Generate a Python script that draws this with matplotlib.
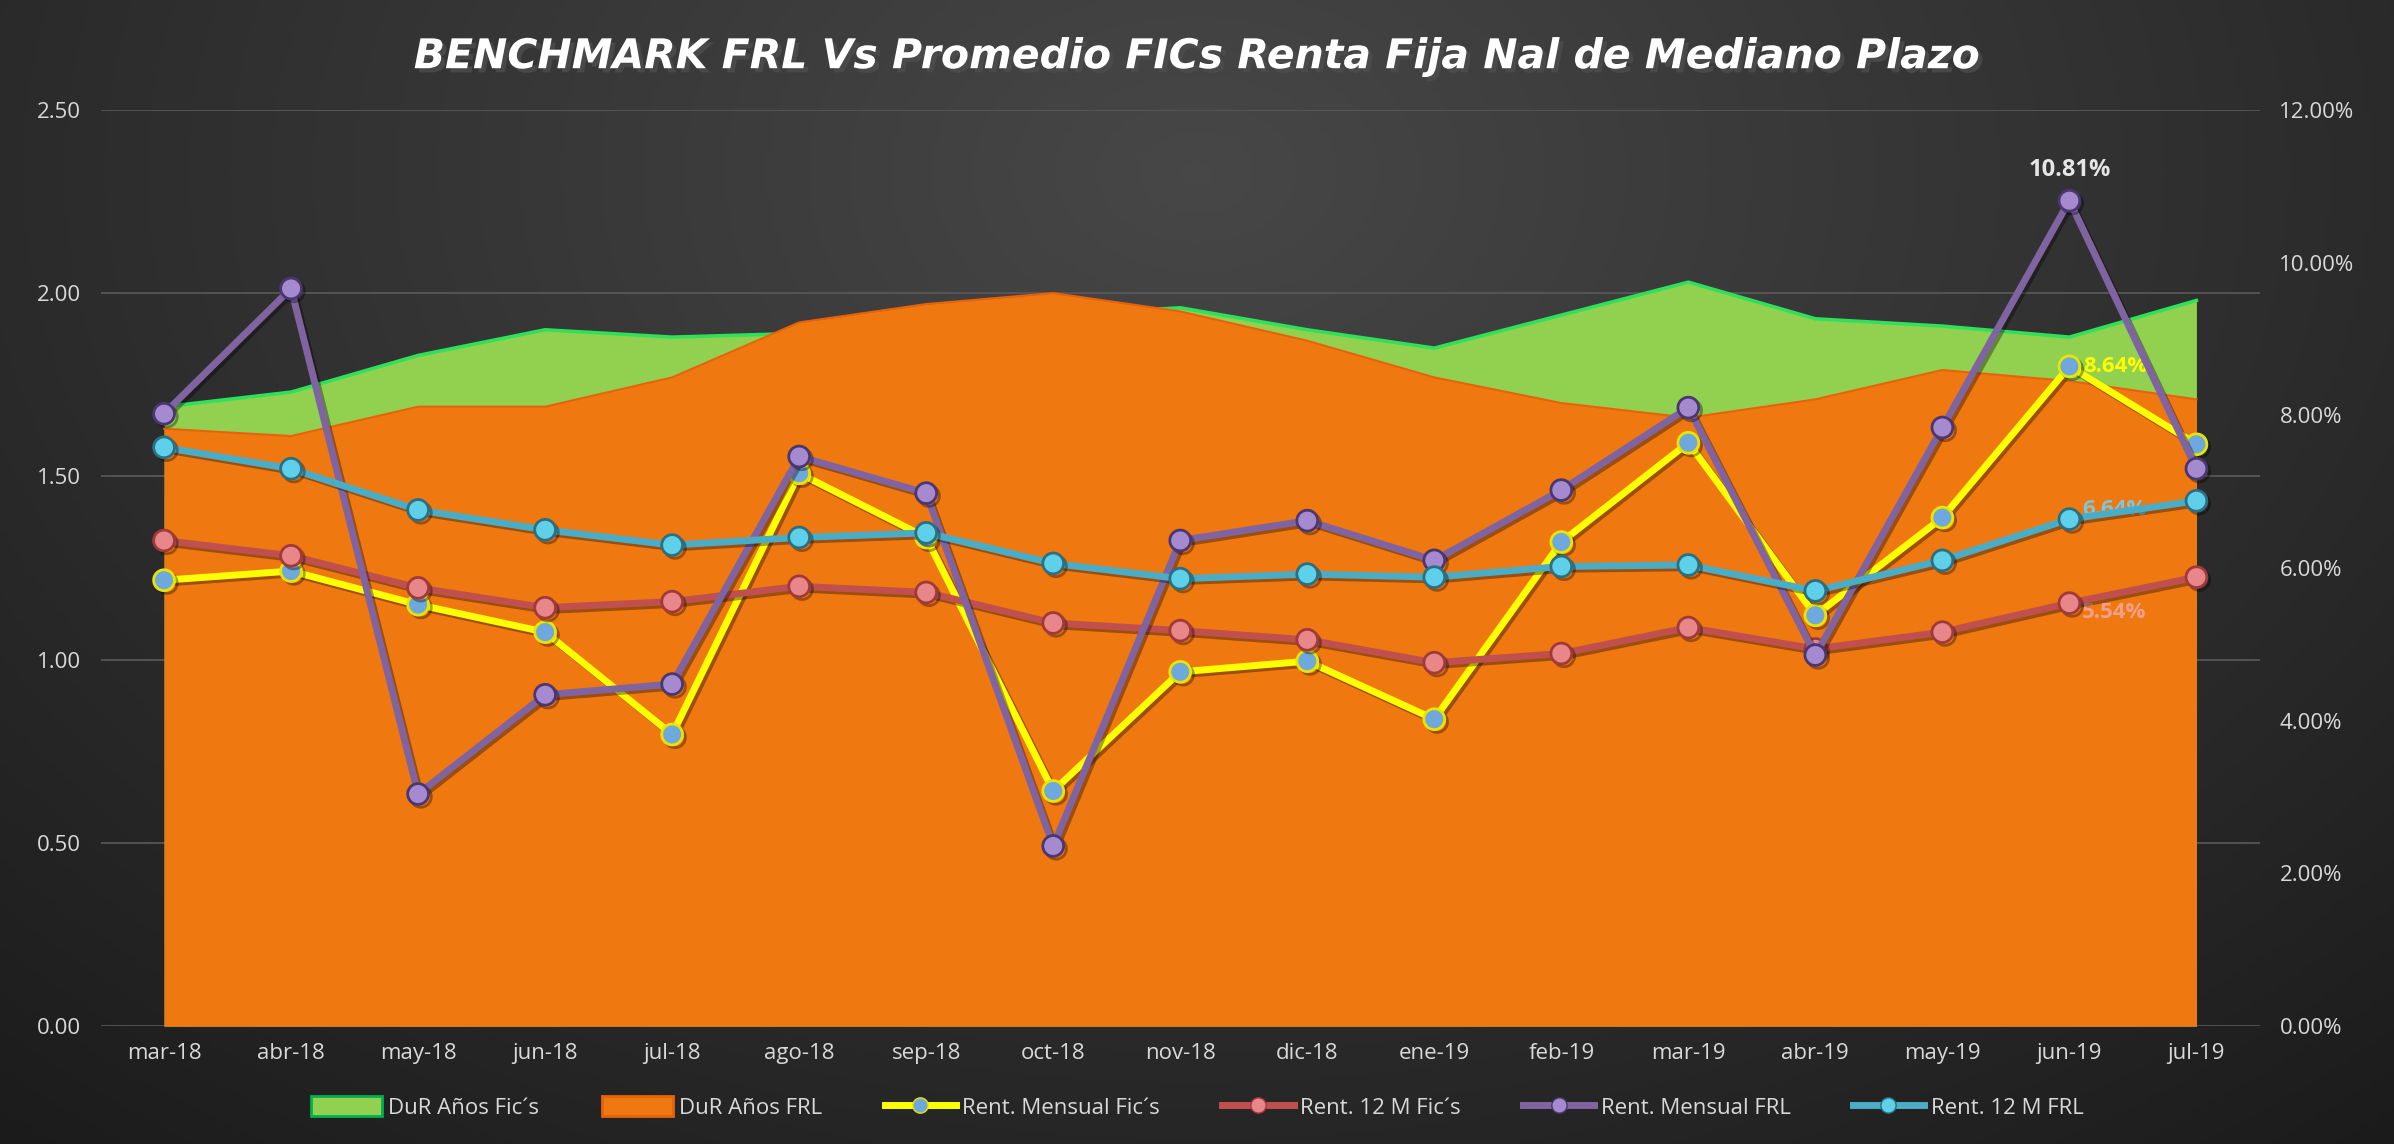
import numpy as np
import matplotlib.pyplot as plt
import matplotlib.patheffects as pe
from matplotlib.patches import Patch
from matplotlib.lines import Line2D
from matplotlib.ticker import FuncFormatter, MultipleLocator

# --- data ---
months = ["mar-18", "abr-18", "may-18", "jun-18", "jul-18", "ago-18", "sep-18", "oct-18",
          "nov-18", "dic-18", "ene-19", "feb-19", "mar-19", "abr-19", "may-19", "jun-19", "jul-19"]

dur_fics = [1.69, 1.73, 1.83, 1.90, 1.88, 1.89, 1.91, 1.94, 1.96, 1.90, 1.85, 1.94, 2.03, 1.93, 1.91, 1.88, 1.98]
dur_frl = [1.63, 1.61, 1.69, 1.69, 1.77, 1.92, 1.97, 2.00, 1.95, 1.87, 1.77, 1.70, 1.66, 1.71, 1.79, 1.76, 1.71]

# returns in %
rent_mens_fics = [5.84, 5.96, 5.52, 5.16, 3.82, 7.24, 6.40, 3.08, 4.64, 4.78, 4.02, 6.34, 7.64, 5.38, 6.66, 8.64, 7.62]
rent_12m_fics = [6.36, 6.16, 5.74, 5.48, 5.56, 5.76, 5.68, 5.28, 5.18, 5.06, 4.76, 4.88, 5.22, 4.94, 5.16, 5.54, 5.88]
rent_mens_frl = [8.02, 9.66, 3.04, 4.34, 4.48, 7.46, 6.98, 2.36, 6.36, 6.62, 6.10, 7.02, 8.10, 4.86, 7.84, 10.81, 7.30]
rent_12m_frl = [7.58, 7.30, 6.76, 6.50, 6.30, 6.40, 6.46, 6.06, 5.86, 5.92, 5.88, 6.02, 6.04, 5.70, 6.10, 6.64, 6.88]

plt.rcParams['font.family'] = ['Open Sans', 'DejaVu Sans']
txt_col = "#d9d9d9"

fig = plt.figure(figsize=(23.94, 11.44), dpi=100)

# dark radial-ish background
bg = fig.add_axes([0, 0, 1, 1], zorder=-10)
yy, xx = np.mgrid[0:1:300j, 0:1:600j]
r = np.sqrt(((xx - 0.5) / 0.75) ** 2 + ((yy - 0.15) / 1.1) ** 2)
shade = np.clip(0.28 - 0.17 * r, 0.1, 0.3)
bg.imshow(np.dstack([shade, shade, shade]), aspect="auto", extent=[0, 1, 0, 1], origin="upper")
bg.axis("off")

ax = fig.add_axes([0.042, 0.103, 0.902, 0.801])
ax.patch.set_visible(False)
x = np.arange(len(months))

ax.fill_between(x, 0, dur_fics, color="#92d050", linewidth=0, zorder=1)
ax.plot(x, dur_fics, color="#2ee05a", linewidth=2.5, zorder=1)
ax.fill_between(x, 0, dur_frl, color="#f07810", linewidth=0, zorder=2)
ax.plot(x, dur_frl, color="#e8620a", linewidth=1.5, zorder=2)

ax.set_xlim(-0.5, len(months) - 0.5)
ax.set_ylim(0, 2.5)
ax.yaxis.set_major_locator(MultipleLocator(0.5))
ax.yaxis.set_major_formatter(FuncFormatter(lambda v, p: f"{v:.2f}"))
ax.set_xticks(x)
ax.set_xticklabels(months)
ax.grid(axis="y", color="#5a5a5a", linewidth=1.2, zorder=0)
ax.set_axisbelow(True)
ax.tick_params(length=0, colors=txt_col, labelsize=16, pad=12)
ax.tick_params(axis="y", pad=14)
for s in ax.spines.values():
    s.set_visible(False)

ax2 = ax.twinx()
ax2.set_ylim(0, 12)
ax2.yaxis.set_major_locator(MultipleLocator(2))
ax2.yaxis.set_major_formatter(FuncFormatter(lambda v, p: f"{v:.2f}%"))
ax2.tick_params(length=0, colors=txt_col, labelsize=16, pad=14)
for s in ax2.spines.values():
    s.set_visible(False)

series = [
    (rent_mens_fics, "#ffff00", "#6fa8dc", "#e6e600", "Rent. Mensual Fic´s"),
    (rent_12m_fics, "#c0504d", "#e8868a", "#a03a3a", "Rent. 12 M Fic´s"),
    (rent_mens_frl, "#8064a2", "#a58ad0", "#4a3670", "Rent. Mensual FRL"),
    (rent_12m_frl, "#4bacc6", "#5fd0ea", "#2a6f82", "Rent. 12 M FRL"),
]
shadow = [pe.SimpleLineShadow(offset=(2, -2), alpha=0.35), pe.Normal()]
for vals, lc, mc, me, lab in series:
    ax2.plot(x, vals, color=lc, linewidth=5, marker="o", markersize=15,
             markerfacecolor=mc, markeredgecolor=me, markeredgewidth=2,
             path_effects=shadow, zorder=5)

# data labels at jun-19
j = 15
ax2.annotate(f"{rent_mens_frl[j]:.2f}%", (x[j], rent_mens_frl[j]), xytext=(0, 22),
             textcoords="offset points", ha="center", va="center",
             color="#e6e6e6", fontsize=17, fontweight="bold")
ax2.annotate(f"{rent_mens_fics[j]:.2f}%", (x[j], rent_mens_fics[j]), xytext=(10, 0),
             textcoords="offset points", ha="left", va="center",
             color="#ffff00", fontsize=16, fontweight="bold")
ax2.annotate(f"{rent_12m_frl[j]:.2f}%", (x[j], rent_12m_frl[j]), xytext=(9, 7),
             textcoords="offset points", ha="left", va="center",
             color="#7ac8e0", fontsize=16, fontweight="bold")
ax2.annotate(f"{rent_12m_fics[j]:.2f}%", (x[j], rent_12m_fics[j]), xytext=(9, -7),
             textcoords="offset points", ha="left", va="center",
             color="#f2a08a", fontsize=16, fontweight="bold")

fig.text(0.5, 0.95, "BENCHMARK FRL Vs Promedio FICs Renta Fija Nal de Mediano Plazo",
         ha="center", va="center", color="white", fontsize=29.5, fontweight="bold",
         fontstyle="italic", family="DejaVu Sans",
         path_effects=[pe.withSimplePatchShadow(offset=(3, -3), alpha=0.8)])

handles = [
    Patch(facecolor="#92d050", edgecolor="#00b050", linewidth=2, label="DuR Años Fic´s"),
    Patch(facecolor="#f07810", edgecolor="#e8620a", linewidth=2, label="DuR Años FRL"),
]
for vals, lc, mc, me, lab in series:
    handles.append(Line2D([], [], color=lc, linewidth=5, marker="o", markersize=11,
                          markerfacecolor=mc, markeredgecolor=me, label=lab))
fig.legend(handles=handles, loc="center", bbox_to_anchor=(0.5, 0.032), ncol=6,
           frameon=False, fontsize=16, labelcolor=txt_col, handlelength=3.2,
           handleheight=1.0, columnspacing=2.8, handletextpad=0.3)

fig.savefig("out.png", dpi=100)
